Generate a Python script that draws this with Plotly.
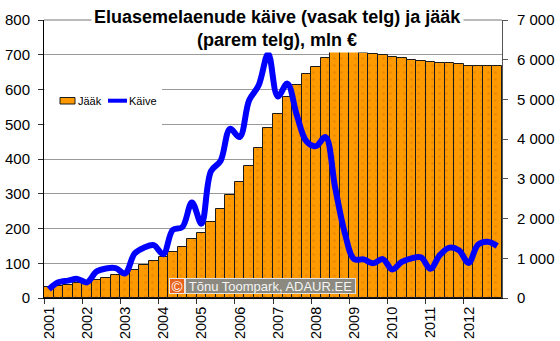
import plotly.graph_objects as go

# Quarterly data 2001 Q1 ... 2012 Q4
years = ["2001", "2002", "2003", "2004", "2005", "2006",
         "2007", "2008", "2009", "2010", "2011", "2012"]

# Housing loan stock (right axis), mln €
stock = [268, 310, 327, 369, 380, 444, 511, 570, 603, 712, 821, 930,
         1022, 1147, 1290, 1474, 1625, 1902, 2229, 2600, 2920, 3325, 3770, 4280,
         4640, 5068, 5370, 5630, 5813, 6040, 6182, 6207, 6182, 6165, 6150, 6115,
         6070, 6050, 6005, 5970, 5940, 5920, 5905, 5880, 5830, 5830, 5850, 5850]

# Housing loan turnover (left axis), mln €
turnover = [25, 45, 50, 55, 45, 76, 85, 86, 71, 128, 145, 152,
            126, 196, 204, 275, 214, 365, 394, 487, 463, 569, 612, 703,
            580, 617, 526, 451, 437, 463, 320, 190, 112, 111, 100, 112,
            82, 104, 114, 117, 84, 124, 145, 137, 101, 154, 162, 150]

left_ticks = [0, 100, 200, 300, 400, 500, 600, 700, 800]
right_ticks = [0, 1000, 2000, 3000, 4000, 5000, 6000, 7000]
right_labels = ["0", "1 000", "2 000", "3 000", "4 000", "5 000", "6 000", "7 000"]

n = len(stock)
xpos = [i + 0.5 for i in range(n)]
year_pos = [4 * i for i in range(len(years))]

FONT = "Liberation Sans, Arial, sans-serif"
W, H = 560, 341
PL, PT, PW, PH = 44, 20, 458, 278


def fx(px):
    return (px - PL) / PW


def fy(py):
    return (PT + PH - py) / PH


fig = go.Figure()

fig.add_trace(go.Bar(
    x=xpos, y=stock, name="Jääk", yaxis="y", width=1,
    marker=dict(color="#FF9900",
                line=dict(color="#1a1a1a", width=1),
                pattern=dict(shape=".", fgcolor="#D27A00", bgcolor="#FF9900",
                             size=7, solidity=0.12)),
    showlegend=False,
))

fig.add_trace(go.Scatter(
    x=xpos, y=turnover, name="Käive", yaxis="y2", mode="lines",
    line=dict(color="#0000FF", width=6, shape="spline", smoothing=1),
    showlegend=False,
))

fig.update_layout(
    width=W, height=H,
    margin=dict(l=PL, r=W - PL - PW, t=PT, b=H - PT - PH, autoexpand=False),
    paper_bgcolor="white", plot_bgcolor="white",
    font=dict(family=FONT, size=15, color="black"),
    bargap=0,
    xaxis=dict(
        range=[0, n], tickvals=year_pos, ticktext=years, tickangle=-90,
        ticks="outside", ticklen=5, tickcolor="#333333",
        showline=True, linecolor="black", linewidth=1,
        showgrid=False, zeroline=False, ticklabelshift=5,
        ticklabelstandoff=-3, automargin=False,
        tickfont=dict(family=FONT, size=14.5, color="black"),
    ),
    yaxis=dict(
        side="right", range=[0, 7000], tickvals=right_ticks, ticktext=right_labels,
        ticks="outside", ticklen=5, tickcolor="#555555",
        showline=True, linecolor="#555555", linewidth=1,
        showgrid=False, zeroline=False, ticklabelstandoff=6, automargin=False,
    ),
    yaxis2=dict(
        side="left", overlaying="y", range=[0, 800], tickvals=left_ticks,
        ticks="outside", ticklen=5, tickcolor="#333333",
        showline=True, linecolor="black", linewidth=1,
        showgrid=True, gridcolor="#9a9a9a", gridwidth=1,
        zeroline=False, ticklabelstandoff=5, automargin=False,
    ),
    yaxis3=dict(
        side="right", overlaying="y", anchor="x", range=[0, 7000],
        tickvals=right_ticks, ticks="inside", ticklen=5, tickcolor="#555555",
        showticklabels=False, showline=False, showgrid=False, zeroline=False,
        automargin=False,
    ),
)

# top frame of the plot area
fig.add_shape(type="line", xref="paper", yref="paper", x0=0, x1=1, y0=1, y1=1,
              line=dict(color="#777777", width=1), layer="below")

# legend box
fig.add_shape(type="rect", xref="paper", yref="paper",
              x0=fx(PL + 0.5), x1=fx(162), y0=fy(128), y1=fy(70),
              fillcolor="white", line=dict(width=0), layer="above")
fig.add_shape(type="rect", xref="paper", yref="paper",
              x0=fx(60), x1=fx(75), y0=fy(104), y1=fy(97.5),
              fillcolor="#FF9900", line=dict(color="#1a1a1a", width=1), layer="above")
fig.add_shape(type="line", xref="paper", yref="paper",
              x0=fx(108), x1=fx(127), y0=fy(100.7), y1=fy(100.7),
              line=dict(color="#0000FF", width=4), layer="above")
fig.add_annotation(text="Jääk", xref="paper", yref="paper", x=fx(76), y=fy(100.7),
                   xanchor="left", yanchor="middle", showarrow=False,
                   font=dict(family=FONT, size=11, color="black"))
fig.add_annotation(text="Käive", xref="paper", yref="paper", x=fx(126.5), y=fy(100.7),
                   xanchor="left", yanchor="middle", showarrow=False,
                   font=dict(family=FONT, size=11, color="black"))

# title
fig.add_annotation(
    text="<b>Eluasemelaenude käive (vasak telg) ja jääk<br>(parem telg), mln €</b>",
    xref="paper", yref="paper", x=fx(277), y=fy(28), xanchor="center", yanchor="middle",
    showarrow=False, bgcolor="white", borderpad=2,
    font=dict(family=FONT, size=18, color="black"),
)

# copyright label
fig.add_annotation(text="©", xref="paper", yref="paper", x=fx(176.5), y=fy(286),
                   xanchor="center", yanchor="middle", showarrow=False,
                   width=14, height=14, bgcolor="#E8641E", bordercolor="#E8E8E8",
                   borderwidth=1, borderpad=0,
                   font=dict(family=FONT, size=15, color="white"))
fig.add_annotation(text="Tõnu Toompark, ADAUR.EE", xref="paper", yref="paper",
                   x=fx(270.5), y=fy(286), xanchor="center", yanchor="middle",
                   showarrow=False, width=169, height=14, bgcolor="#8C8A80",
                   bordercolor="#E0E0E0", borderwidth=1, borderpad=0,
                   font=dict(family=FONT, size=13, color="#F4F4F4"))

fig.write_html("out.html")
